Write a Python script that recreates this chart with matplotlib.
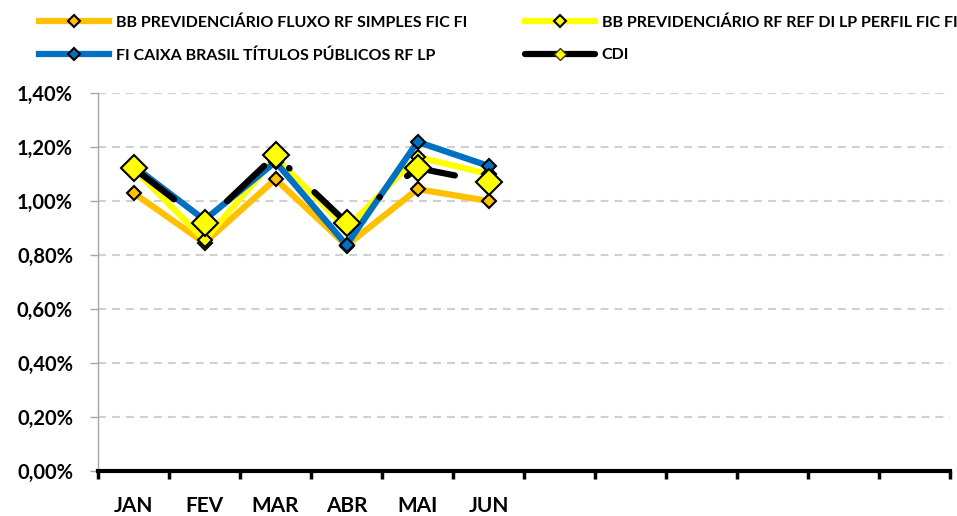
import matplotlib
matplotlib.use("Agg")
import matplotlib.pyplot as plt
from matplotlib.lines import Line2D
import numpy as np

months = ["JAN", "FEV", "MAR", "ABR", "MAI", "JUN", "", "", "", "", "", ""]
names = ["BB PREVIDENCIÁRIO FLUXO RF SIMPLES FIC FI",
         "BB PREVIDENCIÁRIO RF REF DI LP PERFIL FIC FI",
         "FI CAIXA BRASIL TÍTULOS PÚBLICOS RF LP",
         "CDI"]
bb_fluxo = [1.03, 0.845, 1.081, 0.835, 1.044, 1.00]
bb_perfil = [1.12, 0.856, 1.16, 0.90, 1.163, 1.10]
caixa = [1.13, 0.93, 1.145, 0.837, 1.219, 1.13]
cdi = [1.122, 0.92, 1.17, 0.92, 1.122, 1.07]
yticks = [0.0, 0.2, 0.4, 0.6, 0.8, 1.0, 1.2, 1.4]

plt.rcParams['font.family'] = ['Lato', 'DejaVu Sans']
plt.rcParams['font.weight'] = 'bold'

W, H = 957, 516
fig = plt.figure(figsize=(W / 100, H / 100), dpi=100)
ax = fig.add_axes([98 / W, 1 - 471 / H, (950 - 98) / W, (471 - 93) / H])

x = np.arange(len(bb_fluxo)) + 0.5
lw = 4.5
ax.plot(x, bb_fluxo, color="#FFC000", lw=lw, marker="D", ms=7.5, mfc="#FFC000",
        mec="black", mew=1.5, zorder=3, solid_joinstyle="round")
ax.plot(x, bb_perfil, color="#FFFF00", lw=lw, marker="D", ms=7.5, mfc="#FFFF00",
        mec="black", mew=1.5, zorder=4, solid_joinstyle="round")
ax.plot(x, caixa, color="#0070C0", lw=lw, marker="D", ms=7.5, mfc="#0070C0",
        mec="black", mew=1.5, zorder=5, solid_joinstyle="round")
ax.plot(x, cdi, color="black", lw=lw, ls=(0, (8.2, 5.5, 0.1, 5.5)),
        dash_capstyle="round", zorder=6)
ax.plot(x, cdi, ls="none", marker="D", ms=13.5, mfc="#FFFF00", mec="black",
        mew=1.5, zorder=7)

ax.set_xlim(0, 12)
ax.set_ylim(0, 1.4)
ax.set_yticks(yticks)
ax.set_yticklabels([f"{v:.2f}%".replace(".", ",") for v in yticks], fontsize=14.5,
                   fontweight="bold")
ax.set_xticks(np.arange(13))
ax.set_xticklabels([])
ax.set_xticks(np.arange(12) + 0.5, minor=True)
ax.set_xticklabels(months, minor=True, fontsize=15, fontweight="bold")
ax.tick_params(axis="x", which="minor", length=0, pad=18)
ax.tick_params(axis="x", which="major", length=6, width=2.5, color="black", direction="out")
ax.tick_params(axis="y", length=6, width=1, color="#A6A6A6", pad=12)

for s in ["top", "right"]:
    ax.spines[s].set_visible(False)
ax.spines["left"].set_color("#A6A6A6")
ax.spines["left"].set_linewidth(1)
ax.spines["bottom"].set_color("black")
ax.spines["bottom"].set_linewidth(3)

for v in yticks[1:]:
    ax.axhline(v, color="#D0D0D0", lw=1.5, ls=(0, (3.8, 2.9)), zorder=1)

h_fluxo = Line2D([], [], color="#FFC000", lw=lw, marker="D", ms=6, mfc="#FFC000", mec="black", mew=1.5)
h_perfil = Line2D([], [], color="#FFFF00", lw=lw, marker="D", ms=6, mfc="#FFFF00", mec="black", mew=1.5)
h_caixa = Line2D([], [], color="#0070C0", lw=lw, marker="D", ms=6, mfc="#0070C0", mec="black", mew=1.5)
h_cdi = Line2D([], [], color="black", lw=lw, marker="D", ms=6, mfc="#FFFF00", mec="#333333", mew=1,
               solid_capstyle="round")
leg = fig.legend([h_fluxo, h_caixa, h_perfil, h_cdi], [names[0], names[2], names[1], names[3]],
                 ncol=2, loc="upper left", bbox_to_anchor=(25 / W, 1 - 1 / H), frameon=False,
                 prop={"size": 11.5, "weight": "bold"}, handlelength=4.38, handletextpad=0.44,
                 columnspacing=3.57, labelspacing=1.15)

fig.savefig("out.png", dpi=100)
